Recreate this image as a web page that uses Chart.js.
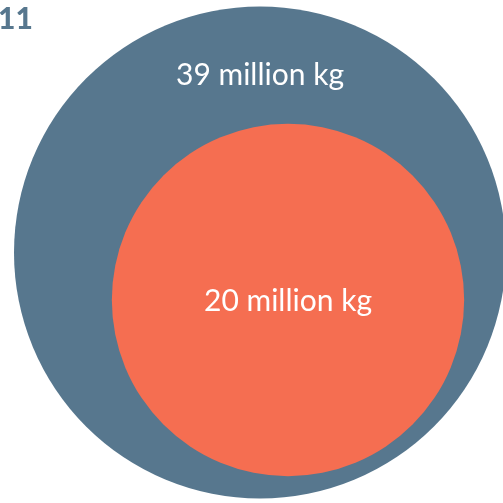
<!DOCTYPE html>
<html><head><meta charset="utf-8">
<style>html,body{margin:0;padding:0;background:#fff;}#wrap{width:503px;height:503px;}</style>
<script src="https://cdn.jsdelivr.net/npm/chart.js@4/dist/chart.umd.min.js"></script>
</head><body><div id="wrap"><canvas id="c" width="503" height="503"></canvas></div>
<script>
const categories = ["39 million kg", "20 million kg"];
const values = [39, 20];
const titleText = "11";

const colors = ["#57778e", "#f56e51"];
const centers = [{x: 260, y: 252.5}, {x: 288, y: 300}];
const labelOffsets = [-178, 0];
const k = 246 / Math.sqrt(39);

const labelPlugin = {
  id: 'labels',
  afterDatasetsDraw(chart) {
    const ctx = chart.ctx;
    ctx.save();
    ctx.fillStyle = '#ffffff';
    ctx.font = '30px Lato';
    ctx.textAlign = 'center';
    ctx.textBaseline = 'alphabetic';
    chart.data.datasets.forEach((ds, i) => {
      const el = chart.getDatasetMeta(i).data[0];
      ctx.fillText(ds.label, el.x, el.y + labelOffsets[i] + 10.5);
    });
    ctx.fillStyle = '#57778e';
    ctx.font = '900 30px Lato';
    ctx.textAlign = 'left';
    ctx.fillText(titleText, -2, 29);
    ctx.restore();
  }
};

new Chart(document.getElementById('c'), {
  type: 'bubble',
  data: {
    datasets: categories.map((c, i) => ({
      label: c,
      order: categories.length - i,
      data: [{x: centers[i].x, y: centers[i].y, v: values[i]}],
      backgroundColor: colors[i],
      borderWidth: 0,
      hoverBorderWidth: 0,
      radius: (ctx) => k * Math.sqrt(ctx.raw.v),
      hoverRadius: 0,
      clip: false
    }))
  },
  options: {
    responsive: false,
    animation: false,
    events: [],
    layout: {padding: 0, autoPadding: false},
    plugins: {legend: {display: false}, tooltip: {enabled: false}},
    scales: {
      x: {type: 'linear', min: 0, max: 503, display: false},
      y: {type: 'linear', min: 0, max: 503, reverse: true, display: false}
    }
  },
  plugins: [labelPlugin]
});
</script></body></html>
